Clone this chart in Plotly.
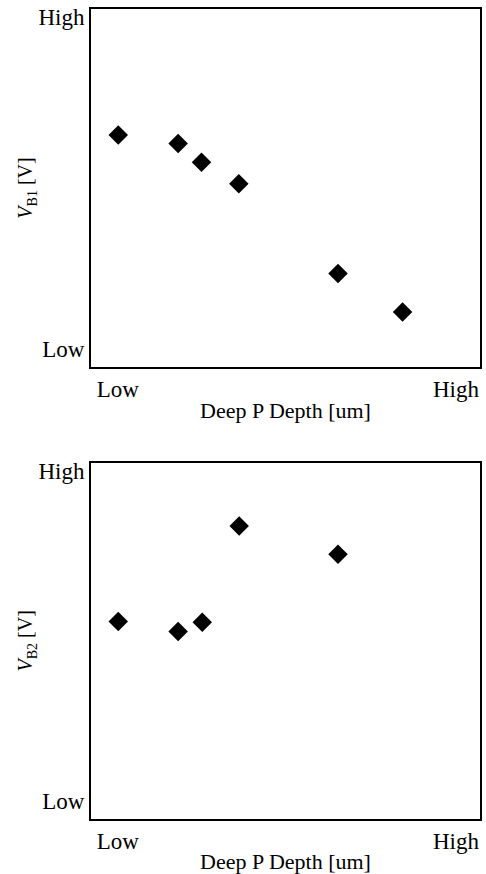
import plotly.graph_objects as go

# Data (relative units, 0 = Low, 10 = High)
depth_top = [0.70, 2.24, 2.84, 3.80, 6.35, 8.01]
vb1 = [6.48, 6.24, 5.72, 5.12, 2.61, 1.54]

depth_bot = [0.70, 2.24, 2.86, 3.81, 6.35]
vb2 = [5.54, 5.26, 5.52, 8.22, 7.43]

x_tickvals = [0.69, 9.38]
x_ticktext = ["Low", "High"]
y_tickvals = [0.5, 9.77]
y_ticktext = ["Low", "High"]

FONT = "Liberation Serif"
marker = dict(symbol="diamond", size=15, color="black", line=dict(width=0))

fig = go.Figure()
fig.add_trace(go.Scatter(x=depth_top, y=vb1, mode="markers", marker=marker,
                         xaxis="x", yaxis="y", showlegend=False))
fig.add_trace(go.Scatter(x=depth_bot, y=vb2, mode="markers", marker=marker,
                         xaxis="x2", yaxis="y2", showlegend=False))

def xax(anchor):
    return dict(range=[0, 10], anchor=anchor, showgrid=False, zeroline=False,
                showline=True, linecolor="black", linewidth=2, mirror=True,
                ticks="", tickvals=x_tickvals, ticktext=x_ticktext,
                tickfont=dict(family=FONT, size=23, color="black"),
                title=dict(text="Deep P Depth [um]", standoff=2,
                           font=dict(family=FONT, size=22, color="black")),
                automargin=False, fixedrange=True)

def yax(anchor, domain, title):
    return dict(range=[0, 10], anchor=anchor, domain=domain, showgrid=False,
                zeroline=False, showline=True, linecolor="black", linewidth=2,
                mirror=True, ticks="", tickvals=y_tickvals, ticktext=y_ticktext,
                tickfont=dict(family=FONT, size=23, color="black"),
                title=dict(text=title, standoff=0,
                           font=dict(family=FONT, size=20, color="black")),
                automargin=False, fixedrange=True)

fig.update_layout(
    width=486, height=874,
    margin=dict(l=91, r=6, t=9, b=55),
    paper_bgcolor="white", plot_bgcolor="white",
    xaxis=xax("y"),
    yaxis=yax("x", [0.558, 1.0], "<i>V</i><sub>B1</sub> [V]"),
    xaxis2=xax("y2"),
    yaxis2=yax("x2", [0.0, 0.44], "<i>V</i><sub>B2</sub> [V]"),
)

fig.write_html("out.html", config={"displayModeBar": False},
               post_script="document.body.style.margin='0';document.body.style.overflow='hidden';")
